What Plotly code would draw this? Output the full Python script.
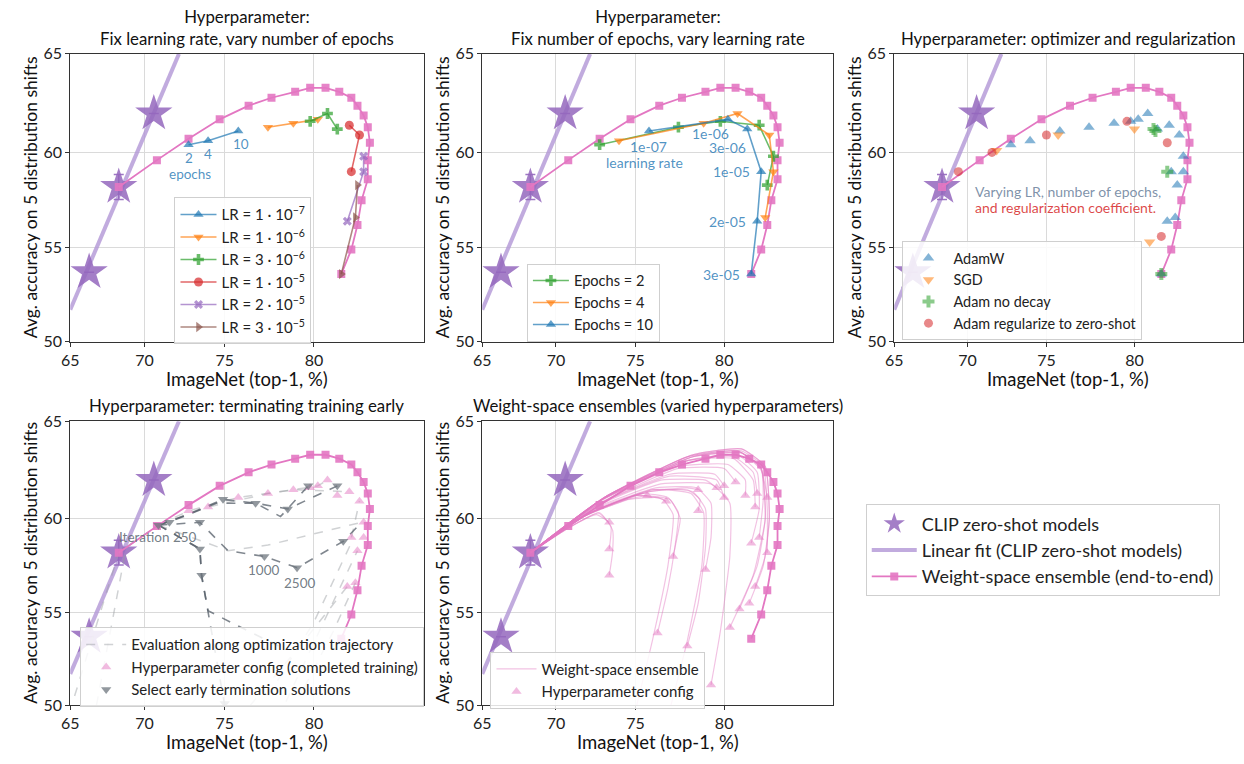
import plotly.graph_objects as go
from statistics import NormalDist

_ND = NormalDist()


def pr(vals):
    """probit scale (matplotlib-style probit axes)"""
    return [_ND.inv_cdf(v / 100.0) for v in vals]


W, H = 1244, 764
FONT = "Lato, 'DejaVu Sans', sans-serif"

# ------------------------------------------------------------------ data
clip_x = [66.3, 68.3, 70.6]
clip_y = [53.7, 58.2, 62.0]
clip_err = [0.0, 0.65, 0.0]

fit_x = [65.0, 72.2]
fit_y = [51.7, 65.0]

wse_x = [68.3, 70.8, 72.8, 74.7, 76.4, 77.7, 79.0, 79.8, 80.6, 81.3, 81.9,
         82.2, 82.5, 82.7, 82.8, 82.7, 82.7, 82.4, 82.2, 81.9, 81.4]
wse_y = [58.2, 59.6, 60.7, 61.7, 62.4, 62.8, 63.1, 63.3, 63.3, 63.1, 62.8,
         62.4, 61.9, 61.3, 60.5, 59.6, 58.6, 57.5, 56.2, 54.9, 53.6]

lr_names = ["1e-07", "1e-06", "3e-06", "1e-05", "2e-05", "3e-05"]
lr_legend = ["LR = 1 · 10<sup>−7</sup>", "LR = 1 · 10<sup>−6</sup>", "LR = 3 · 10<sup>−6</sup>",
             "LR = 1 · 10<sup>−5</sup>", "LR = 2 · 10<sup>−5</sup>", "LR = 3 · 10<sup>−5</sup>"]
epochs = [2, 4, 10]
# rows: learning rate, columns: epochs (2, 4, 10)
grid_x = [[72.8, 74.0, 75.8], [77.5, 78.9, 80.2], [79.8, 80.7, 81.2],
          [81.8, 82.3, 81.9], [82.5, 82.5, 81.7], [82.2, 82.1, 81.4]]
grid_y = [[60.4, 60.6, 61.1], [61.3, 61.5, 61.7], [61.6, 62.0, 61.2],
          [61.4, 60.9, 59.0], [59.8, 59.0, 56.4], [58.3, 56.6, 53.6]]

sgd_x = [71.9, 75.7, 80.0, 80.8]
sgd_y = [60.1, 60.9, 61.2, 55.3]
nodecay_x = [81.1, 81.0, 81.7, 81.4]
nodecay_y = [61.1, 61.2, 59.0, 53.6]
reg_x = [69.4, 71.6, 75.0, 79.6, 81.7, 81.4]
reg_y = [59.0, 60.0, 60.9, 61.6, 60.5, 55.6]

traj_dark_x = [[70.9, 72.7, 74.9, 76.8, 78.2, 79.7],
               [70.9, 72.5, 74.5, 76.8, 78.6, 81.2],
               [70.9, 73.5, 75.2, 77.3, 79.1, 81.5, 82.4],
               [70.9, 72.7, 73.5, 73.6, 74.0, 76.4, 78.5],
               [70.9, 72.7, 73.5, 73.6, 74.3, 75.0]]
traj_dark_y = [[59.65, 60.2, 61.0, 60.8, 60.1, 61.7],
               [59.65, 60.1, 60.8, 60.8, 60.5, 61.7],
               [59.65, 59.8, 58.3, 58.0, 57.4, 58.8, 59.8],
               [59.65, 58.8, 58.4, 57.0, 55.1, 54.0, 53.0],
               [59.65, 58.8, 58.4, 57.0, 53.5, 50.0]]
traj_light_x = [[70.9, 75.2, 77.5, 80.0, 82.4],
                [70.9, 74.0, 77.5, 80.2, 80.7],
                [70.9, 72.8, 75.8, 78.9, 81.8],
                [77.5, 80.0, 81.8, 82.3],
                [78.5, 80.5, 82.2],
                [79.5, 81.0, 82.1],
                [65.3, 68.3, 70.9],
                [66.8, 68.8, 70.9],
                [76.5, 79.5, 81.7]]
traj_light_y = [[59.65, 58.3, 58.6, 59.2, 59.8],
                [59.65, 60.6, 61.3, 61.7, 62.0],
                [59.65, 60.4, 61.1, 61.5, 61.4],
                [50.5, 54.5, 58.5, 60.9],
                [50.2, 54.5, 58.3],
                [51.0, 54.0, 56.6],
                [50.5, 58.2, 59.65],
                [50.0, 58.5, 59.65],
                [50.0, 53.5, 56.4]]
early_x = [70.9, 71.6, 73.5, 74.9, 76.8, 78.6, 79.7, 81.2, 73.5, 73.6, 77.3, 79.1, 81.5, 75.0]
early_y = [59.65, 59.8, 59.8, 61.0, 60.8, 60.5, 61.7, 61.7, 58.4, 57.0, 58.0, 57.4, 58.8, 50.1]

ens_x = [[68.3, 70.8, 72.6, 73.4],
         [68.3, 70.8, 72.7, 73.5, 73.4],
         [68.3, 70.8, 72.8, 73.6, 73.6, 73.4],
         [68.3, 71.5, 74.5, 75.7],
         [68.3, 71.5, 74.6, 76.3, 76.8],
         [68.3, 71.8, 75.0, 77.0, 77.6, 77.4, 77.2],
         [68.3, 72.0, 75.3, 76.9, 77.5, 77.3, 76.9, 76.3],
         [68.3, 72.0, 75.0, 76.6, 77.2, 76.9, 76.0, 74.8],
         [68.3, 72.2, 76.0, 78.3, 79.0, 79.0, 78.6, 78.0],
         [68.3, 72.2, 76.0, 78.2, 78.9, 78.8, 78.0, 76.8],
         [68.3, 72.3, 76.2, 78.5, 79.3, 79.3, 79.0],
         [68.3, 72.4, 76.5, 79.3, 80.3, 80.3, 79.8, 79.3],
         [68.3, 72.2, 75.8, 78.0, 78.6],
         [68.3, 72.2, 75.8, 78.0, 78.7, 78.6],
         [68.3, 72.5, 76.5, 79.0, 79.6],
         [68.3, 72.6, 77.0, 79.5, 80.0],
         [68.3, 72.6, 77.0, 79.6, 80.0],
         [68.3, 72.8, 77.5, 80.0, 80.6],
         [68.3, 72.8, 77.5, 80.2, 81.1, 81.1],
         [68.3, 73.0, 78.0, 80.5, 81.5, 81.7],
         [68.3, 73.0, 78.0, 80.5, 81.5, 81.6],
         [68.3, 73.0, 78.0, 80.7, 81.7, 81.8, 81.4],
         [68.3, 73.1, 78.3, 80.9, 81.9, 82.0, 81.8],
         [68.3, 73.1, 78.3, 80.9, 82.0, 82.2, 82.2],
         [68.3, 73.1, 78.0, 80.7, 81.9, 82.1, 81.5, 80.3],
         [68.3, 73.1, 78.0, 80.7, 81.9, 82.1, 81.7, 80.8],
         [68.3, 73.1, 78.3, 80.9, 82.1, 82.3, 82.0, 81.3],
         [68.3, 73.1, 78.3, 80.9, 82.1, 82.3, 82.1, 81.6],
         [68.3, 73.1, 78.3, 80.9, 81.9, 82.2]]
ens_y = [[58.2, 59.5, 60.2, 59.8],
         [58.2, 59.5, 60.3, 59.6, 58.4],
         [58.2, 59.5, 60.3, 59.4, 58.2, 57.0],
         [58.2, 60.0, 61.0, 61.2],
         [58.2, 60.0, 61.0, 61.1, 60.9],
         [58.2, 60.1, 61.2, 61.0, 60.0, 58.9, 58.0],
         [58.2, 60.2, 61.3, 61.1, 60.3, 58.5, 56.3, 53.9],
         [58.2, 60.2, 61.2, 61.0, 60.2, 57.5, 53.5, 49.0],
         [58.2, 60.3, 61.5, 61.4, 60.5, 58.5, 55.5, 53.2],
         [58.2, 60.3, 61.5, 61.3, 60.3, 57.5, 53.5, 49.0],
         [58.2, 60.4, 61.6, 61.6, 60.8, 59.0, 57.3],
         [58.2, 60.5, 61.8, 61.8, 60.8, 58.0, 54.0, 51.1],
         [58.2, 60.3, 61.4, 61.6, 61.5],
         [58.2, 60.3, 61.4, 61.5, 61.0, 60.4],
         [58.2, 60.6, 62.0, 62.0, 61.6],
         [58.2, 60.7, 62.3, 62.3, 61.7],
         [58.2, 60.7, 62.2, 62.0, 61.1],
         [58.2, 60.8, 62.6, 62.6, 61.9],
         [58.2, 60.9, 62.7, 62.8, 62.0, 61.2],
         [58.2, 61.0, 63.0, 63.2, 62.4, 61.3],
         [58.2, 61.0, 63.0, 63.1, 62.0, 60.6],
         [58.2, 61.0, 63.0, 63.3, 62.4, 60.5, 58.7],
         [58.2, 61.1, 63.2, 63.4, 62.6, 61.0, 59.0],
         [58.2, 61.1, 63.2, 63.5, 62.7, 60.5, 58.2],
         [58.2, 61.1, 63.2, 63.5, 62.6, 60.0, 57.0, 54.2],
         [58.2, 61.1, 63.2, 63.5, 62.6, 60.0, 57.5, 55.2],
         [58.2, 61.1, 63.3, 63.6, 62.7, 60.0, 57.5, 55.5],
         [58.2, 61.1, 63.3, 63.6, 62.7, 60.0, 58.0, 56.4],
         [58.2, 61.1, 63.2, 63.4, 62.5, 61.1]]

x_ticks = [65, 70, 75, 80]
y_ticks = [50, 55, 60, 65]

# ------------------------------------------------------------------ styles
BLUE, ORANGE, GREEN, RED, PURPLE, BROWN, PINK = (
    "31,119,180", "255,127,14", "44,160,44", "214,39,40", "148,103,189", "140,86,75", "227,119,194")
lr_colors = [BLUE, ORANGE, GREEN, RED, PURPLE, BROWN]
lr_symbols = ["triangle-up", "triangle-down", "cross", "circle", "x", "triangle-right"]


def rgba(c, a):
    return f"rgba({c},{a})"


fig = go.Figure()


def axes(k):
    return ("x" if k == 1 else f"x{k}", "y" if k == 1 else f"y{k}")


def add(k, **kw):
    xa, ya = axes(k)
    kw.setdefault("hoverinfo", "skip")
    fig.add_trace(go.Scatter(xaxis=xa, yaxis=ya, **kw))


err_p = [_ND.inv_cdf((y + e) / 100) - _ND.inv_cdf(y / 100) for y, e in zip(clip_y, clip_err)]
err_m = [_ND.inv_cdf(y / 100) - _ND.inv_cdf((y - e) / 100) for y, e in zip(clip_y, clip_err)]


def add_base(k):
    add(k, x=pr(fit_x), y=pr(fit_y), mode="lines",
        line=dict(color="rgba(178,150,214,0.8)", width=4),
        name="Linear fit (CLIP zero-shot models)", legend="legend",
        showlegend=(k == 1), legendrank=2)
    add(k, x=pr(clip_x), y=pr(clip_y), mode="markers",
        marker=dict(symbol="star", size=28, color=rgba(PURPLE, 0.85), line=dict(width=0)),
        error_y=dict(type="data", symmetric=False, array=err_p, arrayminus=err_m,
                     color=rgba(PURPLE, 0.9), thickness=1.5, width=5),
        name="CLIP zero-shot models", legend="legend", showlegend=(k == 1), legendrank=1)


def add_wse(k):
    add(k, x=pr(wse_x), y=pr(wse_y), mode="lines+markers",
        line=dict(color=rgba(PINK, 1.0), width=1.8),
        marker=dict(symbol="square", size=8, color=rgba(PINK, 0.9), line=dict(width=0)),
        name="Weight-space ensemble (end-to-end)", legend="legend",
        showlegend=(k == 1), legendrank=3)


# ---------------- subplot 1: fix LR, vary epochs
add_base(1)
add_wse(1)
for i in range(6):
    add(1, x=pr(grid_x[i]), y=pr(grid_y[i]), mode="lines+markers",
        line=dict(color=rgba(lr_colors[i], 0.7), width=1.6),
        marker=dict(symbol=lr_symbols[i], size=9 if lr_symbols[i] != "x" else 8,
                    color=rgba(lr_colors[i], 0.7), line=dict(width=0)),
        name=lr_legend[i], legend="legend2", legendrank=10 + i)

# ---------------- subplot 2: fix epochs, vary LR
add_base(2)
add_wse(2)
ep_colors = [GREEN, ORANGE, BLUE]
ep_symbols = ["cross", "triangle-down", "triangle-up"]
for j in range(3):
    add(2, x=pr([grid_x[i][j] for i in range(6)]), y=pr([grid_y[i][j] for i in range(6)]),
        mode="lines+markers", line=dict(color=rgba(ep_colors[j], 0.7), width=1.6),
        marker=dict(symbol=ep_symbols[j], size=9, color=rgba(ep_colors[j], 0.7), line=dict(width=0)),
        name=f"Epochs = {epochs[j]}", legend="legend3", legendrank=20 + j)

# ---------------- subplot 3: optimizer and regularization
add_base(3)
add_wse(3)
add(3, x=pr([v for r in grid_x for v in r]), y=pr([v for r in grid_y for v in r]), mode="markers",
    marker=dict(symbol="triangle-up", size=10, color=rgba(BLUE, 0.55), line=dict(width=0)),
    name="AdamW", legend="legend4", legendrank=30)
add(3, x=pr(sgd_x), y=pr(sgd_y), mode="markers",
    marker=dict(symbol="triangle-down", size=10, color=rgba(ORANGE, 0.55), line=dict(width=0)),
    name="SGD", legend="legend4", legendrank=31)
add(3, x=pr(nodecay_x), y=pr(nodecay_y), mode="markers",
    marker=dict(symbol="cross", size=10, color=rgba(GREEN, 0.55), line=dict(width=0)),
    name="Adam no decay", legend="legend4", legendrank=32)
add(3, x=pr(reg_x), y=pr(reg_y), mode="markers",
    marker=dict(symbol="circle", size=9, color=rgba(RED, 0.55), line=dict(width=0)),
    name="Adam regularize to zero-shot", legend="legend4", legendrank=33)

# ---------------- subplot 4: early termination
add_base(4)
for n, (tx, ty) in enumerate(zip(traj_light_x, traj_light_y)):
    add(4, x=pr(tx), y=pr(ty), mode="lines",
        line=dict(color="rgba(150,155,160,0.45)", width=1.5, dash="dash"),
        name="Evaluation along optimization trajectory", legend="legend5",
        showlegend=(n == 0), legendrank=40)
for tx, ty in zip(traj_dark_x, traj_dark_y):
    add(4, x=pr(tx), y=pr(ty), mode="lines",
        line=dict(color="rgba(85,95,105,0.75)", width=1.6, dash="dash"), showlegend=False)
add_wse(4)
add(4, x=pr([v for r in grid_x for v in r]), y=pr([v for r in grid_y for v in r]), mode="markers",
    marker=dict(symbol="triangle-up", size=9, color=rgba(PINK, 0.5), line=dict(width=0)),
    name="Hyperparameter config (completed training)", legend="legend5", legendrank=41)
add(4, x=pr(early_x), y=pr(early_y), mode="markers",
    marker=dict(symbol="triangle-down", size=9, color="rgba(110,118,126,0.75)", line=dict(width=0)),
    name="Select early termination solutions", legend="legend5", legendrank=42)

# ---------------- subplot 5: weight-space ensembles per config
add_base(5)
for n, (ex, ey) in enumerate(zip(ens_x, ens_y)):
    add(5, x=pr(ex), y=pr(ey), mode="lines",
        line=dict(color=rgba(PINK, 0.45), width=1.2, shape="spline", smoothing=0.45),
        name="Weight-space ensemble", legend="legend6", showlegend=(n == 0), legendrank=50)
add(5, x=pr([e[-1] for e in ens_x]), y=pr([e[-1] for e in ens_y]), mode="markers",
    marker=dict(symbol="triangle-up", size=9, color=rgba(PINK, 0.5), line=dict(width=0)),
    name="Hyperparameter config", legend="legend6", legendrank=51)
add_wse(5)

# ------------------------------------------------------------------ layout
rows = {1: (45, 340), 2: (421.7, 713)}
cols = {1: (61.7, 417.7), 2: (476.7, 830), 3: (891.7, 1242.5)}
plots = {1: (1, 1), 2: (1, 2), 3: (1, 3), 4: (2, 1), 5: (2, 2)}
XR = [_ND.inv_cdf(0.65), 1.047]
YR = [_ND.inv_cdf(0.50), _ND.inv_cdf(0.65)]

layout = dict(width=W, height=H, margin=dict(l=0, r=0, t=0, b=0),
              paper_bgcolor="white", plot_bgcolor="white",
              font=dict(family=FONT, color="#222222"), showlegend=True)

axis_common = dict(showline=True, mirror=True, linecolor="#333333", linewidth=1,
                   ticks="outside", ticklen=4, tickcolor="#333333",
                   showgrid=True, gridcolor="#dadada", gridwidth=1, zeroline=False,
                   tickfont=dict(size=16, color="#222222", family=FONT))

for k, (r, c) in plots.items():
    y0, y1 = rows[r]
    x0, x1 = cols[c]
    xa = "xaxis" if k == 1 else f"xaxis{k}"
    ya = "yaxis" if k == 1 else f"yaxis{k}"
    layout[xa] = dict(axis_common, domain=[x0 / W, x1 / W], range=XR,
                      tickvals=pr(x_ticks), ticktext=[str(v) for v in x_ticks],
                      anchor="y" if k == 1 else f"y{k}")
    layout[ya] = dict(axis_common, domain=[1 - y1 / H, 1 - y0 / H], range=YR,
                      tickvals=pr(y_ticks), ticktext=[str(v) for v in y_ticks],
                      anchor="x" if k == 1 else f"x{k}")


def leg(px, py, size, iw=30):
    return dict(x=px / W, y=1 - py / H, xanchor="left", yanchor="top",
                bgcolor="rgba(255,255,255,0.85)", bordercolor="#cfcfcf", borderwidth=1,
                font=dict(size=size, family=FONT, color="#222222"), traceorder="normal",
                itemwidth=iw)


layout["legend"] = leg(863, 507, 18, 45)
layout["legend2"] = leg(166.7, 192, 15, 36)
layout["legend3"] = leg(521.7, 260, 14.6, 36)
layout["legend4"] = leg(900, 237, 14.4, 40)
layout["legend5"] = leg(71.7, 633, 15, 40)
layout["legend6"] = leg(485, 658, 15, 40)

ann = []
titles = {1: "Hyperparameter:<br>Fix learning rate, vary number of epochs",
          2: "Hyperparameter:<br>Fix number of epochs, vary learning rate",
          3: "Hyperparameter: optimizer and regularization",
          4: "Hyperparameter: terminating training early",
          5: "Weight-space ensembles (varied hyperparameters)"}
for k, (r, c) in plots.items():
    y0, y1 = rows[r]
    x0, x1 = cols[c]
    cx = (x0 + x1) / 2
    ann.append(dict(xref="paper", yref="paper", x=cx / W, y=1 - (y0 - 3) / H,
                    xanchor="center", yanchor="bottom", text=titles[k], showarrow=False,
                    font=dict(size=16.8, color="#111111", family=FONT)))
    ann.append(dict(xref="paper", yref="paper", x=cx / W, y=1 - (y1 + 38) / H,
                    xanchor="center", yanchor="middle", text="ImageNet (top-1, %)",
                    showarrow=False, font=dict(size=18.5, color="#111111", family=FONT)))
    ann.append(dict(xref="paper", yref="paper", x=(x0 - 40) / W, y=1 - (y0 + y1) / 2 / H,
                    xanchor="center", yanchor="middle", textangle=-90,
                    text="Avg. accuracy on 5 distribution shifts",
                    showarrow=False, font=dict(size=17.5, color="#111111", family=FONT)))

LBL = "rgba(31,119,180,0.8)"


def pt_label(k, x, y, text, xs, ys, xanchor="center", color=LBL, size=14):
    xa, ya = axes(k)
    ann.append(dict(xref=xa, yref=ya, x=pr([x])[0], y=pr([y])[0], text=text, showarrow=False,
                    xanchor=xanchor, yanchor="middle", xshift=xs, yshift=ys,
                    font=dict(size=size, color=color, family=FONT)))


# subplot 1: epoch labels on LR=1e-7 series
for j, (xs, ys) in enumerate([(0, -13), (0, -13), (3, -13)]):
    pt_label(1, grid_x[0][j], grid_y[0][j], str(epochs[j]), xs, ys, size=13.5)
pt_label(1, grid_x[0][0], grid_y[0][0], "epochs", 1, -29, size=13.5)

# subplot 2: learning-rate labels on Epochs=10 series
lab_off = [(0, -15, "center"), (3, -14, "right"), (1, -18, "right"),
           (-9, 0, "right"), (-9, 0, "right"), (-9, 0, "right")]
for i, (xs, ys, xa_) in enumerate(lab_off):
    pt_label(2, grid_x[i][2], grid_y[i][2], lr_names[i], xs, ys, xa_)
pt_label(2, grid_x[0][2], grid_y[0][2], "learning rate", -4, -31)

# subplot 3 note
ann.append(dict(xref="paper", yref="paper", x=971 / W, y=1 - 186.5 / H, xanchor="left",
                yanchor="middle", showarrow=False, text="Varying LR, number of epochs,",
                font=dict(size=14, color="rgba(120,140,165,0.95)", family=FONT)))
ann.append(dict(xref="paper", yref="paper", x=971 / W, y=1 - 202.5 / H, xanchor="left",
                yanchor="middle", showarrow=False, text="and regularization coefficient.",
                font=dict(size=14, color="rgba(214,39,40,0.85)", family=FONT)))

# subplot 4 iteration labels
GR = "rgba(100,110,120,0.9)"
pt_label(4, traj_dark_x[2][1], traj_dark_y[2][1], "Iteration 250", -42, -15, "center", GR, 13.5)
pt_label(4, traj_dark_x[2][3], traj_dark_y[2][3], "1000", -1, -14, "center", GR, 13.5)
pt_label(4, traj_dark_x[2][4], traj_dark_y[2][4], "2500", 2, -15, "center", GR, 13.5)

layout["annotations"] = ann
fig.update_layout(**layout)
fig.write_html("out.html")
